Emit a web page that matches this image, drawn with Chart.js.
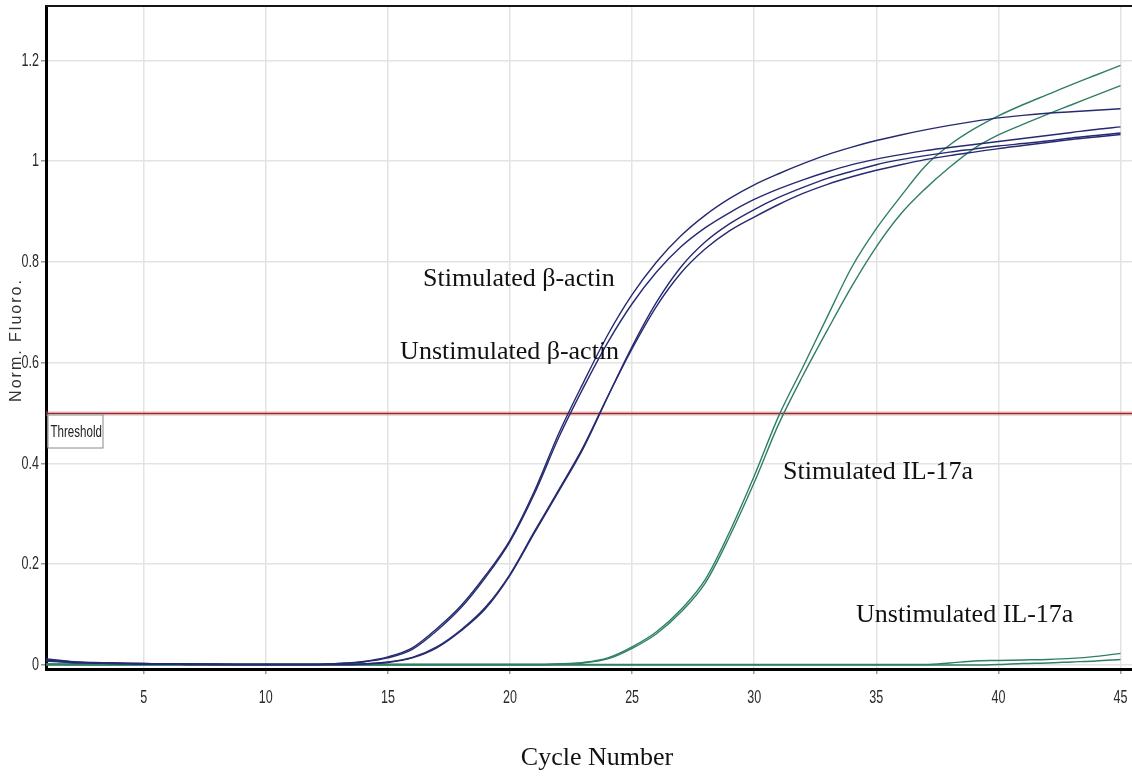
<!DOCTYPE html>
<html>
<head>
<meta charset="utf-8">
<title>Norm. Fluoro.</title>
<script src="https://cdn.jsdelivr.net/npm/chart.js@4.4.1/dist/chart.umd.min.js"></script>
<style>
  html, body { margin: 0; padding: 0; background: #fff; }
  canvas { display: block; }
</style>
</head>
<body>
<canvas id="qpcr" width="1132" height="776"></canvas>
<script>
// amplification curves, normalised fluorescence per cycle
const cycles = [1, 2, 3, 4, 5, 6, 7, 8, 9, 10, 11, 12, 13, 14, 15, 16, 17, 18, 19, 20, 21, 22, 23,
  24, 25, 26, 27, 28, 29, 30, 31, 32, 33, 34, 35, 36, 37, 38, 39, 40, 41, 42, 43, 44, 45];

// beta-actin, two pairs of replicates
const actinA = [0.012, 0.007, 0.005, 0.004, 0.003, 0.002, 0.002, 0.002, 0.001, 0.001, 0.001, 0.001,
  0.003, 0.007, 0.016, 0.034, 0.072, 0.118, 0.178, 0.248, 0.345, 0.46, 0.56, 0.655, 0.735, 0.8,
  0.852, 0.893, 0.926, 0.953, 0.975, 0.995, 1.013, 1.028, 1.041, 1.052, 1.062, 1.071, 1.079, 1.086,
  1.091, 1.095, 1.098, 1.101, 1.104];
const actinB = [0.01, 0.006, 0.004, 0.003, 0.003, 0.002, 0.002, 0.001, 0.001, 0.001, 0.001, 0.001,
  0.003, 0.006, 0.014, 0.031, 0.068, 0.114, 0.174, 0.245, 0.34, 0.452, 0.55, 0.64, 0.717, 0.78,
  0.83, 0.868, 0.898, 0.924, 0.945, 0.963, 0.979, 0.993, 1.004, 1.013, 1.021, 1.027, 1.033, 1.039,
  1.045, 1.051, 1.057, 1.063, 1.068];
const actinC = [0.008, 0.005, 0.004, 0.003, 0.002, 0.002, 0.001, 0.001, 0.001, 0.001, 0.001, 0.001,
  0.001, 0.002, 0.005, 0.014, 0.034, 0.068, 0.112, 0.178, 0.262, 0.345, 0.43, 0.532, 0.632, 0.72,
  0.79, 0.84, 0.876, 0.904, 0.928, 0.948, 0.966, 0.98, 0.993, 1.003, 1.011, 1.018, 1.024, 1.03,
  1.035, 1.04, 1.046, 1.051, 1.056];
const actinD = [0.009, 0.005, 0.004, 0.003, 0.002, 0.002, 0.001, 0.001, 0.001, 0.001, 0.001, 0.001,
  0.001, 0.002, 0.006, 0.015, 0.036, 0.07, 0.115, 0.18, 0.265, 0.348, 0.433, 0.533, 0.628, 0.712,
  0.778, 0.826, 0.862, 0.889, 0.914, 0.936, 0.954, 0.969, 0.982, 0.993, 1.003, 1.011, 1.018, 1.025,
  1.031, 1.037, 1.043, 1.048, 1.053];

// IL-17a, stimulated replicates
const il17StimA = [0.002, 0.002, 0.001, 0.001, 0.001, 0.001, 0.001, 0.001, 0.001, 0.001, 0.001, 0.001,
  0.001, 0.001, 0.001, 0.001, 0.001, 0.001, 0.001, 0.001, 0.001, 0.002, 0.005, 0.014, 0.036, 0.066,
  0.11, 0.17, 0.265, 0.375, 0.494, 0.592, 0.692, 0.79, 0.866, 0.93, 0.99, 1.032, 1.064, 1.09,
  1.112, 1.132, 1.152, 1.171, 1.19];
const il17StimB = [0.002, 0.001, 0.001, 0.001, 0.001, 0.001, 0.001, 0.001, 0.001, 0.001, 0.001, 0.001,
  0.001, 0.001, 0.001, 0.001, 0.001, 0.001, 0.001, 0.001, 0.001, 0.002, 0.004, 0.012, 0.033, 0.062,
  0.105, 0.163, 0.256, 0.362, 0.478, 0.575, 0.665, 0.752, 0.83, 0.895, 0.945, 0.988, 1.025, 1.052,
  1.073, 1.093, 1.112, 1.131, 1.15];

// IL-17a, unstimulated replicates (stay on the baseline)
const il17UnstimA = [0.001, 0.001, 0.001, 0.001, 0.001, 0.001, 0.001, 0.001, 0.001, 0.001, 0.001, 0.001,
  0.001, 0.001, 0.001, 0.001, 0.001, 0.001, 0.001, 0.001, 0.001, 0.001, 0.001, 0.001, 0.001, 0.001,
  0.001, 0.001, 0.001, 0.001, 0.001, 0.001, 0.001, 0.001, 0.001, 0.001, 0.001, 0.004, 0.008, 0.009,
  0.01, 0.011, 0.013, 0.017, 0.023];
const il17UnstimB = [0, 0, 0, 0, 0, 0, 0, 0, 0, 0, 0, 0, 0, 0, 0, 0, 0, 0, 0, 0, 0, 0, 0, 0, 0, 0,
  0, 0, 0, 0, 0, 0, 0, 0, 0, 0, 0, 0, 0, 0.001, 0.003, 0.004, 0.006, 0.008, 0.011];

const threshold = 0.5;
const xTicks = [5, 10, 15, 20, 25, 30, 35, 40, 45];
const yTicks = [0, 0.2, 0.4, 0.6, 0.8, 1, 1.2];

// curve captions, placed at (cycle, fluorescence)
const captions = [
  { text: 'Stimulated \u03b2-actin', x: 16.44, y: 0.766 },
  { text: 'Unstimulated \u03b2-actin', x: 15.5, y: 0.621 },
  { text: 'Stimulated IL-17a', x: 31.18, y: 0.383 },
  { text: 'Unstimulated IL-17a', x: 34.17, y: 0.099 }
];

const BLUE = '#262a70';
const GREEN = '#2f7f66';
const SANS = "'Liberation Sans', Arial, sans-serif";

const toPoints = (vals) => cycles.map((c, i) => ({ x: c, y: vals[i] }));

const series = [
  { data: actinA, color: BLUE },
  { data: actinB, color: BLUE },
  { data: actinC, color: BLUE },
  { data: actinD, color: BLUE },
  { data: il17UnstimA, color: GREEN },
  { data: il17UnstimB, color: GREEN },
  { data: il17StimA, color: GREEN },
  { data: il17StimB, color: GREEN }
];

// squeezed text, the instrument software uses a narrow face
const narrowText = (ctx, text, x, y, align, squeeze) => {
  ctx.save();
  ctx.translate(x, y);
  ctx.scale(squeeze, 1);
  ctx.textAlign = align;
  ctx.fillText(text, 0, 0);
  ctx.restore();
};

const underlay = {
  id: 'underlay',
  beforeDatasetsDraw(chart) {
    const { ctx, chartArea: area, scales: { y } } = chart;
    const ty = Math.round(y.getPixelForValue(threshold)) + 0.5;
    ctx.save();
    // threshold line with its soft halo
    ctx.strokeStyle = 'rgba(225,140,140,0.35)';
    ctx.lineWidth = 5;
    ctx.beginPath(); ctx.moveTo(area.left, ty); ctx.lineTo(area.right, ty); ctx.stroke();
    ctx.strokeStyle = '#8f2a2a';
    ctx.lineWidth = 1.5;
    ctx.beginPath(); ctx.moveTo(area.left, ty); ctx.lineTo(area.right, ty); ctx.stroke();

    // "Threshold" tag hanging under the line
    const bx = area.left + 1.5, by = ty + 1, bw = 55, bh = 33;
    ctx.fillStyle = '#fff';
    ctx.fillRect(bx, by, bw, bh);
    ctx.strokeStyle = '#8a8a8a';
    ctx.lineWidth = 1;
    ctx.strokeRect(bx + 0.5, by + 0.5, bw, bh);
    ctx.fillStyle = '#222';
    ctx.font = '17px ' + SANS;
    ctx.textBaseline = 'middle';
    narrowText(ctx, 'Threshold', bx + 3, by + bh / 2 + 1, 'left', 0.68);
    ctx.restore();
  }
};

const overlay = {
  id: 'overlay',
  afterDraw(chart) {
    const { ctx, chartArea: area, scales: { x, y } } = chart;
    ctx.save();
    // top frame
    ctx.strokeStyle = '#151515';
    ctx.lineWidth = 2;
    ctx.beginPath(); ctx.moveTo(area.left, area.top); ctx.lineTo(area.right, area.top); ctx.stroke();

    // tick labels
    ctx.fillStyle = '#2a2a2a';
    ctx.font = '19px ' + SANS;
    ctx.textBaseline = 'middle';
    yTicks.forEach(v => narrowText(ctx, String(v), area.left - 7, y.getPixelForValue(v), 'right', 0.66));
    xTicks.forEach(v => narrowText(ctx, String(v), x.getPixelForValue(v), area.bottom + 29, 'center', 0.66));

    // captions
    ctx.fillStyle = '#111';
    ctx.font = "26px 'Liberation Serif', 'Times New Roman', serif";
    ctx.textAlign = 'left';
    captions.forEach(c => ctx.fillText(c.text, x.getPixelForValue(c.x), y.getPixelForValue(c.y)));

    // axis titles
    ctx.textAlign = 'center';
    ctx.fillText('Cycle Number', 597, 758);

    ctx.translate(17, 340);
    ctx.rotate(-Math.PI / 2);
    ctx.fillStyle = '#333';
    ctx.font = '16px ' + SANS;
    ctx.letterSpacing = '2px';
    ctx.fillText('Norm. Fluoro.', 0, 0);
    ctx.restore();
  }
};

new Chart(document.getElementById('qpcr'), {
  type: 'line',
  data: {
    datasets: series.map(s => ({
      data: toPoints(s.data),
      borderColor: s.color,
      borderWidth: 1.4,
      pointRadius: 0,
      fill: false,
      cubicInterpolationMode: 'monotone'
    }))
  },
  options: {
    responsive: false,
    animation: false,
    devicePixelRatio: 1,
    layout: { padding: { top: 6, right: 0, left: 0, bottom: 0 } },
    plugins: {
      legend: { display: false },
      tooltip: { enabled: false }
    },
    scales: {
      x: {
        type: 'linear',
        min: 1,
        max: 45.47,
        afterBuildTicks: (scale) => { scale.ticks = xTicks.map(v => ({ value: v })); },
        afterFit: (scale) => {
          scale.height = 107;
          scale.paddingLeft = 0;
          scale.paddingRight = 0;
        },
        grid: { color: '#e3e3e3', lineWidth: 1.5, tickLength: 5, tickColor: '#999' },
        border: { color: '#000', width: 3 },
        ticks: { display: false, autoSkip: false }
      },
      y: {
        min: -0.008,
        max: 1.308,
        afterBuildTicks: (scale) => { scale.ticks = yTicks.map(v => ({ value: v })); },
        afterFit: (scale) => {
          scale.width = 46;
          scale.paddingTop = 0;
          scale.paddingBottom = 0;
        },
        grid: { color: '#e3e3e3', lineWidth: 1.5, tickLength: 5, tickColor: '#999' },
        border: { color: '#000', width: 3 },
        ticks: { display: false, autoSkip: false }
      }
    }
  },
  plugins: [underlay, overlay]
});
</script>
</body>
</html>
